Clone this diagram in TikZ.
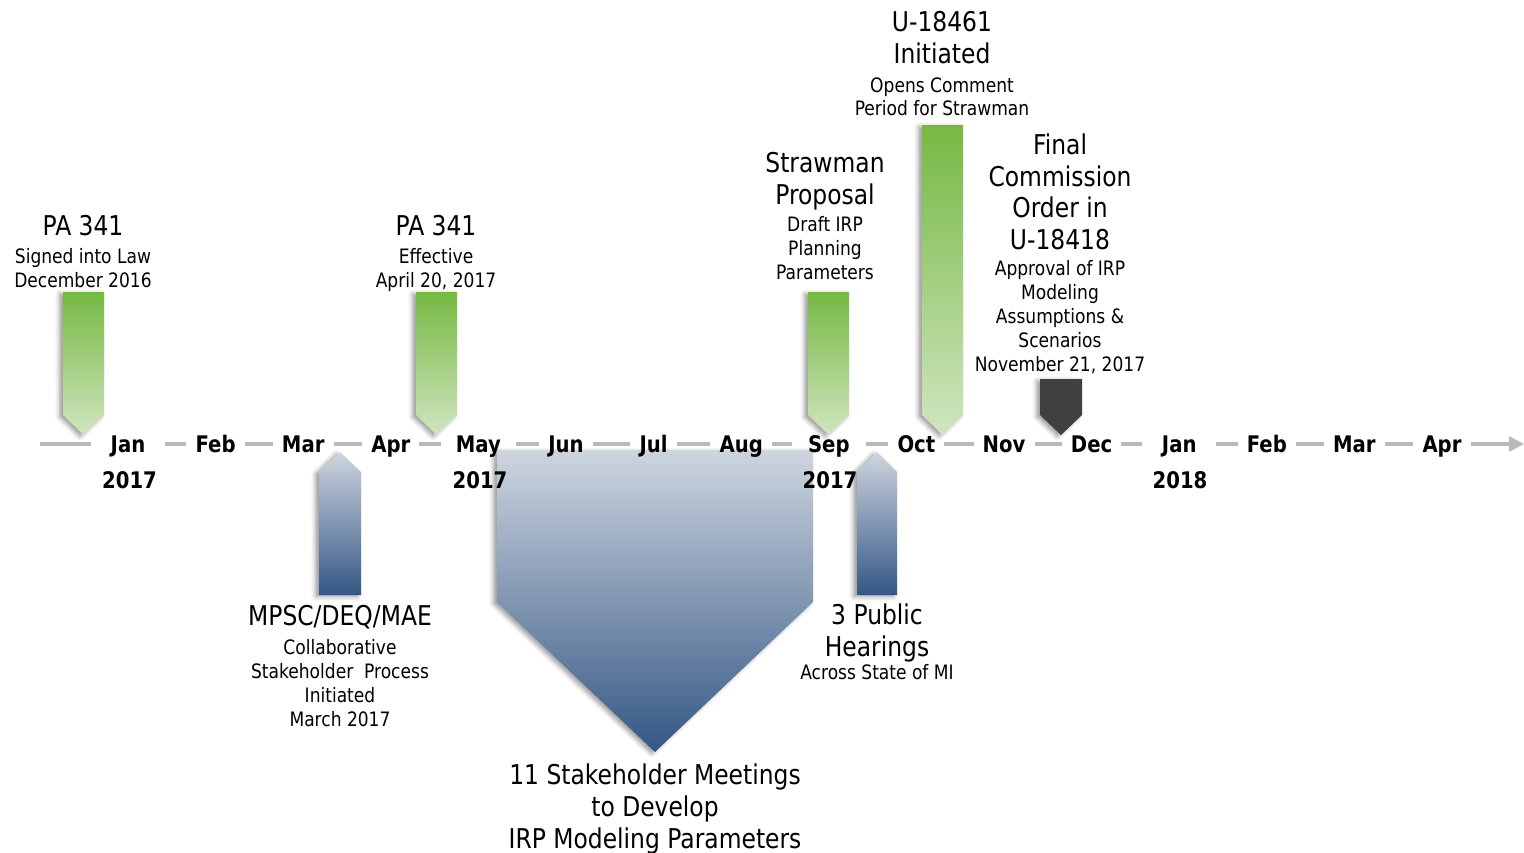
\documentclass[tikz,border=0pt]{standalone}
\usepackage{fontspec}
\setmainfont{DejaVu Sans}[FakeStretch=0.86]
\usepackage{xcolor}
\usepackage{tikz}
\usetikzlibrary{arrows.meta,positioning,shadows.blur}

\definecolor{tlgray}{RGB}{186,186,186}
\definecolor{grntop}{RGB}{118,185,66}
\definecolor{grnbot}{RGB}{208,229,192}
\definecolor{blutop}{RGB}{206,213,223}
\definecolor{blumid}{RGB}{125,145,172}
\definecolor{blubot}{RGB}{52,87,133}
\definecolor{darktag}{RGB}{64,64,64}

\newcommand\headfont{\fontsize{15.5}{18.2}\selectfont}
\newcommand\notefont{\fontsize{11.3}{13.6}\selectfont}
\newcommand\monthfont{\fontsize{13}{15}\selectfont\bfseries}

\begin{document}
\begin{tikzpicture}[
  x=0.02cm, y=-0.02cm,
  tl/.style={draw=tlgray, line width=1.8pt},
  month/.style={font=\monthfont, inner xsep=5pt, inner ysep=0pt, text height=12pt, text depth=2.9pt},
  year/.style={font=\monthfont, inner sep=0pt, anchor=base},
  head/.style={font=\headfont, align=center, inner sep=0pt, anchor=north},
  note/.style={font=\notefont, align=center, inner sep=0pt, anchor=north},
  soft/.style={blur shadow={shadow xshift=-2pt, shadow yshift=-1pt, shadow blur radius=2.5pt, shadow opacity=40}},
  greentag/.style={soft, top color=grntop, bottom color=grnbot},
  bluetag/.style={soft, top color=blutop, bottom color=blubot},
  bigtag/.style={soft, top color=blutop, middle color=blumid, bottom color=blubot}
]
  \useasboundingbox (0,0) rectangle (1524,852);

  % milestones above the line
  \shade[greentag] (63,292) -- (104,292) -- (104,415) -- (83.5,435) -- (63,415) -- cycle;
  \shade[greentag] (416,292) -- (457,292) -- (457,415) -- (436.5,435) -- (416,415) -- cycle;
  \shade[greentag] (808,292) -- (849,292) -- (849,415) -- (828.5,435) -- (808,415) -- cycle;
  \shade[greentag] (922,125) -- (963,125) -- (963,415) -- (942.5,435) -- (922,415) -- cycle;
  \fill[soft, darktag] (1040,379) -- (1082,379) -- (1082,415) -- (1061,435) -- (1040,415) -- cycle;

  % process below the line
  \shade[bluetag] (319,595) -- (361,595) -- (361,472) -- (340,452) -- (319,472) -- cycle;
  \shade[bluetag] (857,595) -- (897,595) -- (897,472) -- (877,452) -- (857,472) -- cycle;
  \shade[bigtag] (497,450) -- (813,450) -- (813,602) -- (655,752) -- (497,602) -- cycle;

  % timeline
  \coordinate (tlstart) at (40,444);
  \coordinate (tlend) at (1524,444);
  \foreach \m/\w [count=\i from 0] in {Jan/42,Feb/0,Mar/0,Apr/0,May/42,Jun/0,Jul/0,Aug/0,
      Sep/42,Oct/0,Nov/0,Dec/0,Jan/42,Feb/0,Mar/0,Apr/0}
    \node[month, minimum width=\w pt] (m\i) at ({128+87.6*\i},444) {\m};
  \draw[tl] (tlstart) -- (m0);
  \foreach \i [evaluate=\i as \j using int(\i+1)] in {0,...,14}
    \draw[tl] (m\i) -- (m\j);
  \draw[tl, -{Triangle[length=8.5pt, width=8.5pt]}] (m15) -- (tlend);

  \node[year] (y0) at (129.5,488) {2017};
  \node[year] (y4) at (480,488) {2017};
  \node[year] (y8) at (830,488) {2017};
  \node[year] (y12) at (1180,488) {2018};

  % labels
  \node[head] (h1) at (83,215) {PA 341};
  \node[note] (n1) at (83,248) {Signed into Law\\December 2016};
  \node[head] (h2) at (436,215) {PA 341};
  \node[note] (n2) at (436,248) {Effective\\April 20, 2017};
  \node[head] (h3) at (825,152) {Strawman\\Proposal};
  \node[note] (n3) at (825,216) {Draft IRP\\Planning\\Parameters};
  \node[head] (h4) at (942,11) {U-18461\\Initiated};
  \node[note] (n4) at (942,77) {Opens Comment\\Period for Strawman};
  \node[head] (h5) at (1060,133) {Final\\Commission\\Order in\\U-18418};
  \node[note] (n5) at (1060,260) {Approval of IRP\\Modeling\\Assumptions \&\\Scenarios\\November 21, 2017};
  \node[head] (h6) at (340,605) {MPSC/DEQ/MAE};
  \node[note] (n6) at (340,639) {Collaborative\\Stakeholder\ \ Process\\Initiated\\March 2017};
  \node[head] (h7) at (877,603) {3 Public\\Hearings};
  \node[note] (n7) at (877,664) {Across State of MI};
  \node[head] (h8) at (655,763) {11 Stakeholder Meetings\\to Develop\\IRP Modeling Parameters};
\end{tikzpicture}
\end{document}
